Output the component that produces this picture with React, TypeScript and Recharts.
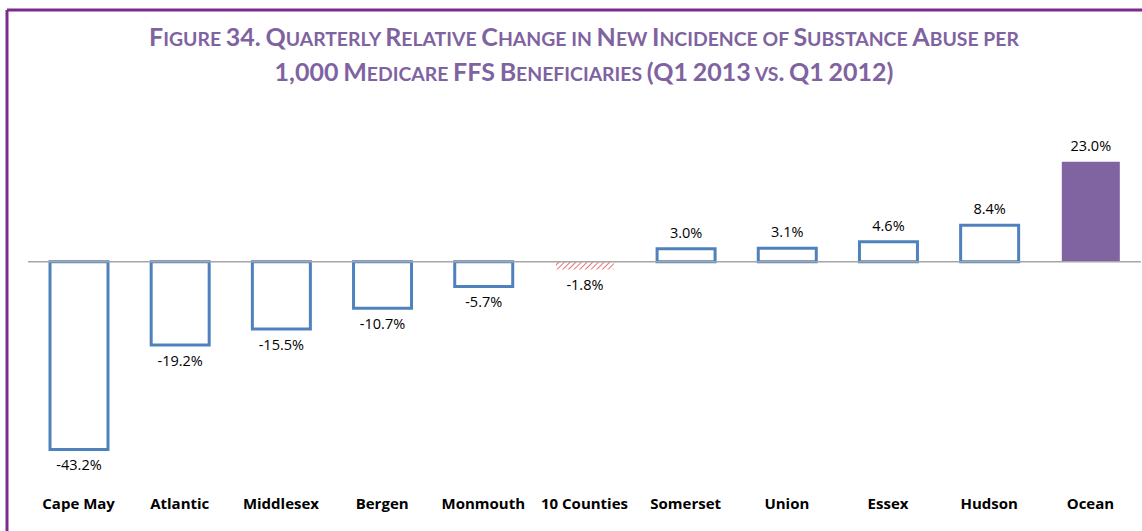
import React from "react";
import { BarChart, Bar, XAxis, YAxis, Cell, LabelList, ReferenceLine } from "recharts";

const categories = ["Cape May", "Atlantic", "Middlesex", "Bergen", "Monmouth", "10 Counties", "Somerset", "Union", "Essex", "Hudson", "Ocean"];
const values = [-43.2, -19.2, -15.5, -10.7, -5.7, -1.8, 3.0, 3.1, 4.6, 8.4, 23.0];
const barKinds = ["county", "county", "county", "county", "county", "total", "county", "county", "county", "county", "highlight"];

const data = categories.map((name, i) => ({ name, value: values[i], kind: barKinds[i] }));

const BLUE = "#4f81bd";
const PURPLE = "#8064a2";
const TITLE_PURPLE = "#7f63a1";
const BORDER = "#7a2b8c";

const titleFont = "Lato, 'Open Sans', sans-serif";

function SmallCaps({ text, big, small }: { text: string; big: number; small: number }) {
  const parts: React.ReactNode[] = [];
  const words = text.split(" ");
  words.forEach((w, wi) => {
    const segs: { t: string; big: boolean }[] = [];
    for (const ch of w) {
      const isBig = ch !== ch.toLowerCase() || /[0-9().,]/.test(ch);
      const last = segs[segs.length - 1];
      if (last && last.big === isBig) last.t += ch;
      else segs.push({ t: ch, big: isBig });
    }
    segs.forEach((s, si) => {
      parts.push(
        <tspan key={wi + "-" + si} fontSize={s.big ? big : small}>
          {s.big ? s.t : s.t.toUpperCase()}
        </tspan>
      );
    });
    if (wi < words.length - 1) parts.push(<tspan key={wi + "-sp"} fontSize={small}>{" "}</tspan>);
  });
  return <>{parts}</>;
}

const titleLine1 = "Figure 34. Quarterly Relative Change in New Incidence of Substance Abuse per";
const titleLine2 = "1,000 Medicare FFS Beneficiaries (Q1 2013 vs. Q1 2012)";

function renderLabel(props: any) {
  const { x, y, width, height, value } = props;
  const top = Math.min(y, y + height);
  const bottom = Math.max(y, y + height);
  const cx = x + width / 2;
  const ty = value >= 0 ? top - 11 : bottom + 21;
  return (
    <text x={cx} y={ty} textAnchor="middle" fontSize={14.5} fill="#000" fontFamily="'Open Sans', sans-serif">
      {value.toFixed(1) + "%"}
    </text>
  );
}

export default function App() {
  return (
    <div style={{ position: "absolute", left: 0, top: 0, width: 1142, height: 531, background: "#fff", overflow: "hidden" }}>
      <svg width={1142} height={531} style={{ position: "absolute", left: 0, top: 0 }}>
        <defs>
          <pattern id="hatch" width="4" height="4" patternUnits="userSpaceOnUse" patternTransform="rotate(45)">
            <line x1="0" y1="0" x2="0" y2="4" stroke="#e57373" strokeWidth="2" />
          </pattern>
        </defs>
        <line x1={7} y1={10} x2={1142} y2={10} stroke={BORDER} strokeWidth={3} />
        <line x1={7} y1={10} x2={7} y2={531} stroke={BORDER} strokeWidth={3} />
        <text x={584} y={46} textAnchor="middle" fontFamily={titleFont} fontWeight="bold" fill={TITLE_PURPLE}>
          <SmallCaps text={titleLine1} big={25} small={19.4} />
        </text>
        <text x={584} y={81} textAnchor="middle" fontFamily={titleFont} fontWeight="bold" fill={TITLE_PURPLE}>
          <SmallCaps text={titleLine2} big={25} small={19.4} />
        </text>
      </svg>
      <div style={{ position: "absolute", left: 0, top: 0 }}>
        <BarChart width={1142} height={531} data={data} margin={{ top: 153, right: 1, bottom: 12, left: 28 }}>
          <YAxis hide domain={[-50, 25]} type="number" />
          <XAxis
            dataKey="name"
            axisLine={false}
            tickLine={false}
            height={40}
            tickMargin={13}
            interval={0}
            tick={{ fontSize: 15, fontWeight: "bold", fill: "#000", fontFamily: "'Open Sans', sans-serif" }}
          />
          <ReferenceLine y={0} stroke="#a6a6a6" strokeWidth={1.5} />
          <Bar dataKey="value" barSize={58} isAnimationActive={false}>
            {data.map((d, i) => (
              <Cell
                key={i}
                fill={d.kind === "highlight" ? PURPLE : d.kind === "total" ? "url(#hatch)" : "#ffffff"}
                stroke={d.kind === "county" ? BLUE : "none"}
                strokeWidth={d.kind === "county" ? 3 : 0}
              />
            ))}
            <LabelList dataKey="value" content={renderLabel} />
          </Bar>
        </BarChart>
      </div>
    </div>
  );
}
